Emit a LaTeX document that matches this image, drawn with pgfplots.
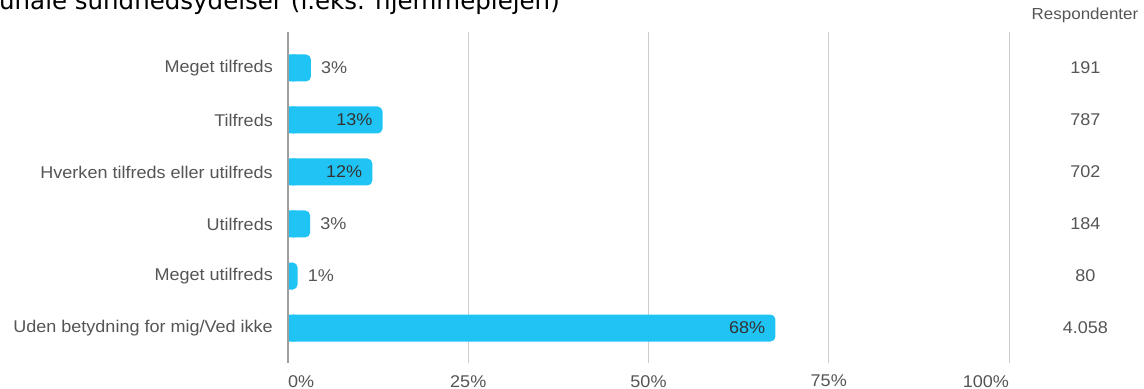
\documentclass[border=0pt]{standalone}
\usepackage{pgfplots}
\pgfplotsset{compat=1.18}
\usepackage{fontspec}
\setmainfont{Liberation Sans}[FakeStretch=1.06]
\newfontfamily\titlefont{DejaVu Sans}

\definecolor{barblue}{HTML}{20C4F4}
\definecolor{gridgray}{HTML}{CCCCCC}
\definecolor{axisgray}{HTML}{9E9E9E}
\definecolor{txtgray}{HTML}{555555}
\definecolor{darktxt}{HTML}{333333}

\newcommand{\fs}[1]{\fontsize{#1bp}{#1bp}\selectfont}

% share of respondents (%), category index
\pgfplotstableread{
y  pct
0  3.18
1  13.11
2  11.70
3  3.07
4  1.33
5  67.61
}\shares

\begin{document}
\begin{tikzpicture}
\path[use as bounding box] (0,0) rectangle (1144bp,389bp);

% title, cut at top and left as in the source
\node[anchor=base east, inner sep=0pt, text=black] at (560bp,379bp)
  {\titlefont\fs{24.5}Kommunale sundhedsydelser (f.eks. hjemmeplejen)};

\begin{axis}[
  at={(288bp,26bp)}, anchor=south west,
  scale only axis,
  width=721bp, height=331bp,
  xmin=0, xmax=100,
  ymin=-0.692, ymax=5.673,
  y dir=reverse,
  axis line style={draw=none},
  tick style={draw=none},
  xtick={0,25,50,75,100},
  xticklabels={\phantom{0\%}0\%,25\%,50\%,75\%,100\%\phantom{100\%}},
  ytick={0,...,5},
  yticklabels={Meget tilfreds,Tilfreds,Hverken tilfreds eller utilfreds,Utilfreds,Meget utilfreds,Uden betydning for mig/Ved ikke},
  xmajorgrids=true,
  major grid style={gridgray, line width=0.8bp},
  xticklabel style={font=\fs{17}, text=txtgray, anchor=north, inner sep=0pt, yshift=-12bp},
  yticklabel style={font=\fs{17}, text=txtgray, anchor=east, inner sep=0pt, xshift=-15bp},
  clip=false,
]
% bars, rounded at the end
\addplot[xbar, bar width=27bp, bar shift=0pt, fill=barblue, draw=none, rounded corners=5bp]
  table[x=pct, y=y] {\shares};
% square the start of each bar
\addplot[xbar, bar width=27bp, bar shift=0pt, fill=barblue, draw=none,
  x filter/.expression={min(x/2,1)}]
  table[x=pct, y=y] {\shares};

% labels outside the short bars
\addplot[draw=none, mark=none, point meta=explicit symbolic,
  nodes near coords, nodes near coords align={anchor=west},
  every node near coord/.append style={font=\fs{17}, text=txtgray, xshift=10bp, inner sep=0pt}]
  coordinates {(3.18,0) [3\%] (3.07,3) [3\%] (1.33,4) [1\%]};
% labels inside the long bars
\addplot[draw=none, mark=none, point meta=explicit symbolic,
  nodes near coords, nodes near coords align={anchor=east},
  every node near coord/.append style={font=\fs{17}, text=darktxt, xshift=-10bp, inner sep=0pt}]
  coordinates {(13.11,1) [13\%] (11.70,2) [12\%] (67.61,5) [68\%]};

% respondents column
\addplot[draw=none, mark=none, point meta=explicit symbolic,
  nodes near coords, nodes near coords align={anchor=center},
  every node near coord/.append style={font=\fs{17}, text=txtgray, inner sep=0pt}]
  coordinates {(110.6,0) [191] (110.6,1) [787] (110.6,2) [702]
               (110.6,3) [184] (110.6,4) [80] (110.6,5) [4.058]};

\draw[axisgray, line width=1.2bp] (axis cs:0,-0.692) -- (axis cs:0,5.673);
\end{axis}

\node[font=\fs{16}, text=txtgray, inner sep=0pt] at (1085bp,374bp) {Respondenter};
\end{tikzpicture}
\end{document}
